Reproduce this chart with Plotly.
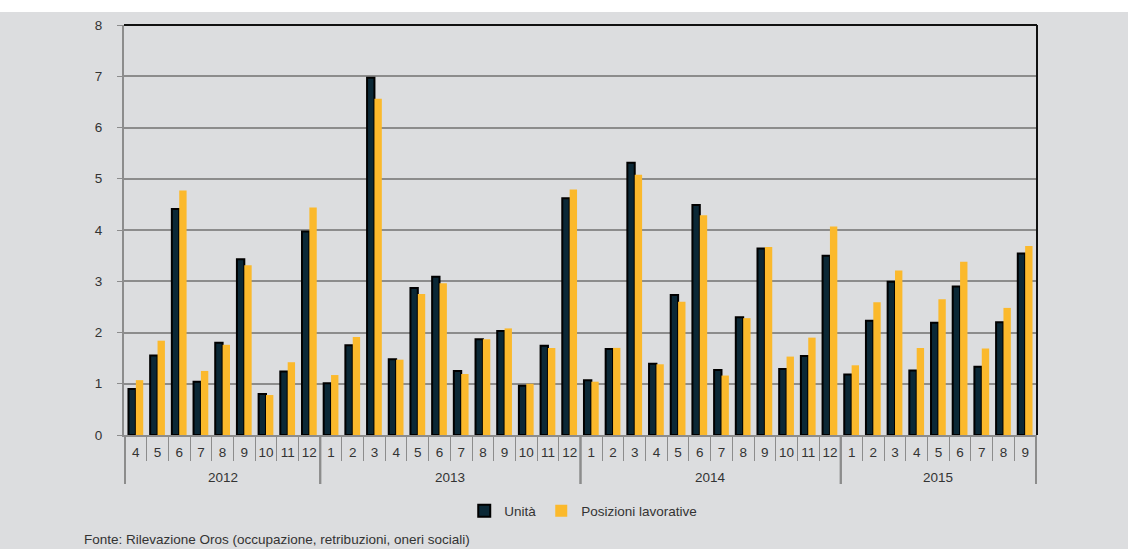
import plotly.graph_objects as go

months_2012 = ["4", "5", "6", "7", "8", "9", "10", "11", "12"]
months_2013 = ["1", "2", "3", "4", "5", "6", "7", "8", "9", "10", "11", "12"]
months_2014 = ["1", "2", "3", "4", "5", "6", "7", "8", "9", "10", "11", "12"]
months_2015 = ["1", "2", "3", "4", "5", "6", "7", "8", "9"]

unita = [0.90, 1.55, 4.41, 1.04, 1.80, 3.43, 0.80, 1.24, 3.97,
         1.01, 1.75, 6.97, 1.48, 2.87, 3.09, 1.25, 1.87, 2.03, 0.96, 1.74, 4.62,
         1.07, 1.68, 5.31, 1.39, 2.73, 4.49, 1.27, 2.30, 3.64, 1.29, 1.54, 3.50,
         1.18, 2.23, 2.99, 1.26, 2.19, 2.90, 1.33, 2.20, 3.54]
posizioni = [1.07, 1.84, 4.77, 1.25, 1.76, 3.31, 0.78, 1.42, 4.44,
             1.17, 1.91, 6.56, 1.47, 2.75, 2.96, 1.19, 1.87, 2.08, 1.00, 1.70, 4.79,
             1.04, 1.70, 5.08, 1.38, 2.60, 4.29, 1.16, 2.28, 3.67, 1.53, 1.90, 4.07,
             1.36, 2.59, 3.21, 1.70, 2.65, 3.38, 1.69, 2.48, 3.69]

year_groups = [("2012", months_2012), ("2013", months_2013),
               ("2014", months_2014), ("2015", months_2015)]
cats = [f"{y}-{m}" for y, ms in year_groups for m in ms]
month_labels = [m for _, ms in year_groups for m in ms]

BG = "#dcdddf"
GRID = "#8c8c8c"
TXT = "#333333"
FONT = "Liberation Sans, Arial, sans-serif"

W, H = 1128, 549
L, R, T, B = 124, 91, 25, 114
pw, ph = W - L - R, H - T - B

fig = go.Figure()
fig.add_trace(go.Bar(
    x=cats, y=unita, name="Unità",
    marker=dict(color="#0b2836", line=dict(color="#000000", width=2)),
))
fig.add_trace(go.Bar(
    x=cats, y=posizioni, name="Posizioni lavorative",
    marker=dict(color="#fbb92c", line=dict(width=0)),
))

shapes = [
    dict(type="rect", xref="paper", yref="paper",
         x0=-L / pw, x1=1 + R / pw, y0=1 + (T - 12) / ph, y1=1 + T / ph,
         fillcolor="white", line=dict(width=0), layer="above"),
    dict(type="line", xref="paper", yref="paper", x0=0, x1=1, y0=1, y1=1,
         line=dict(color="#111111", width=2)),
    dict(type="line", xref="paper", yref="paper", x0=1, x1=1, y0=0, y1=1,
         line=dict(color="#111111", width=2)),
]
annotations = []
start = 0
for yr, ms in year_groups:
    end = start + len(ms)
    for bx in (start - 0.5, end - 0.5):
        shapes.append(dict(type="line", xref="x", yref="paper", x0=bx, x1=bx,
                           y0=0, y1=-(484 - 435) / ph,
                           line=dict(color=GRID, width=2)))
    annotations.append(dict(text=yr, xref="x", yref="paper",
                            x=(start + end - 1) / 2, y=-(477 - 435) / ph,
                            xanchor="center", yanchor="middle", showarrow=False,
                            font=dict(size=13.5, color=TXT, family=FONT)))
    start = end

annotations.append(dict(
    text="Fonte: Rilevazione Oros (occupazione, retribuzioni, oneri sociali)",
    xref="paper", yref="paper", x=(82 - L) / pw, y=-(539 - 435) / ph,
    xanchor="left", yanchor="middle", showarrow=False,
    font=dict(size=13.5, color=TXT, family=FONT)))

fig.update_layout(
    width=W, height=H,
    margin=dict(l=L, r=R, t=T, b=B),
    paper_bgcolor=BG, plot_bgcolor=BG,
    barmode="group", bargap=0.32, bargroupgap=0.0,
    font=dict(family=FONT, size=13, color=TXT),
    showlegend=True,
    legend=dict(orientation="h", x=0.503, xanchor="center", y=-(511 - 435) / ph,
                yanchor="middle", font=dict(size=13.5, color=TXT),
                bgcolor="rgba(0,0,0,0)", itemwidth=30),
    xaxis=dict(type="category", tickvals=cats, ticktext=month_labels,
               tickangle=0, tickson="boundaries", ticklabelstandoff=4,
               showline=True, linecolor=GRID, linewidth=2,
               ticks="outside", ticklen=24, tickcolor=GRID, tickwidth=1,
               tickfont=dict(size=13.5, color=TXT), showgrid=False, zeroline=False),
    yaxis=dict(range=[0, 8], dtick=1, showgrid=True, gridcolor=GRID, gridwidth=1.5,
               showline=True, linecolor=GRID, linewidth=2, ticks="outside",
               ticklen=5, tickcolor=GRID, zeroline=False, ticklabelstandoff=12,
               tickfont=dict(size=13.5, color=TXT)),
    shapes=shapes,
    annotations=annotations,
)

fig.write_html("out.html")
